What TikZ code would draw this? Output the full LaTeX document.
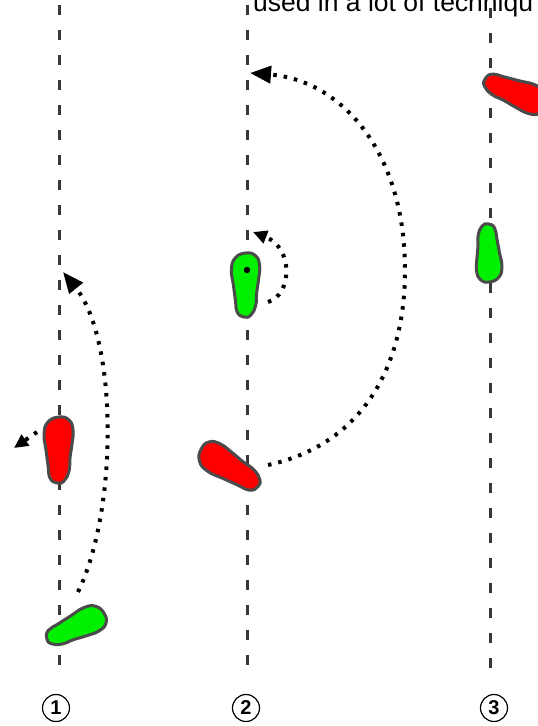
\documentclass[tikz,border=0pt]{standalone}
\usepackage{fontspec}
\setsansfont{Liberation Sans}
\usetikzlibrary{arrows.meta}
\definecolor{footred}{HTML}{FF0000}
\definecolor{footgreen}{HTML}{00F000}
\definecolor{rim}{HTML}{4A4A4A}
\tikzset{
  guide/.style={draw=black!78, line width=3pt, dash pattern=on 10pt off 15pt},
  move/.style={line width=4pt, dash pattern=on 3.5pt off 7pt,
    -{Triangle[length=21pt,width=17pt]}},
  smallmove/.style={move, -{Triangle[length=14pt,width=13pt]}},
  stepnum/.style={circle, draw, line width=1.2pt, minimum size=27pt, inner sep=0pt,
    font=\sffamily\bfseries\fontsize{20}{20}\selectfont},
  foot/.pic={
    \filldraw[fill=#1, draw=rim, line width=3pt]
      plot[smooth cycle, tension=0.8] coordinates {(0,-33) (10,-30) (14,-20) (13,-6)
        (11,8) (10,21) (5,31) (-2,33) (-9,28) (-11,15) (-13,0) (-15,-16) (-11,-28)};
  }
}
\begin{document}
\begin{tikzpicture}[x=1pt,y=-1pt]
\useasboundingbox (0,0) rectangle (538,726);
% cut off caption at the top
\node[anchor=base west, inner sep=0pt, font=\sffamily\fontsize{26.5}{30}\selectfont]
  (caption) at (253,11) {used in a lot of techniqu};
% centre lines
\coordinate (top1) at (59,5);   \coordinate (bot1) at (59,670);
\coordinate (top2) at (247,5);  \coordinate (bot2) at (247,670);
\coordinate (top3) at (490,8);  \coordinate (bot3) at (490,672);
\draw[guide] (top1) -- (bot1);
\draw[guide] (top2) -- (bot2);
\draw[guide] (top3) -- (bot3);
% feet
\pic at (59,450) {foot=footred};
\pic[rotate=-65, scale=0.95] at (76,627) {foot=footgreen};
\pic[scale=0.97] at (246,285) {foot=footgreen};
\fill (247,270) circle (3.2);
\pic[rotate=58, scale=1.03] at (230,467) {foot=footred};
\pic[rotate=-112] at (515,93) {foot=footred};
\pic[rotate=-177, scale=0.88] at (488,253) {foot=footgreen};
% moves
\coordinate (a1s) at (78,592);   \coordinate (a1e) at (63,272);
\coordinate (a2s) at (37,432);   \coordinate (a2e) at (14,448);
\coordinate (a3s) at (268,465);  \coordinate (a3m) at (405,270);
\coordinate (a3e) at (250,73);
\coordinate (a4s) at (268,302);  \coordinate (a4e) at (253,232);
\draw[move] (a1s) .. controls (118,510) and (118,340) .. (a1e);
\draw[smallmove] (a2s) -- (a2e);
\draw[move] (a3s) .. controls (360,445) and (405,370) .. (a3m)
  .. controls (405,150) and (340,80) .. (a3e);
\draw[smallmove] (a4s) .. controls (292,295) and (294,248) .. (a4e);
% step numbers
\node[stepnum] (n1) at (56,708) {1};
\node[stepnum] (n2) at (246,708) {2};
\node[stepnum] (n3) at (494,708) {3};
\end{tikzpicture}
\end{document}
